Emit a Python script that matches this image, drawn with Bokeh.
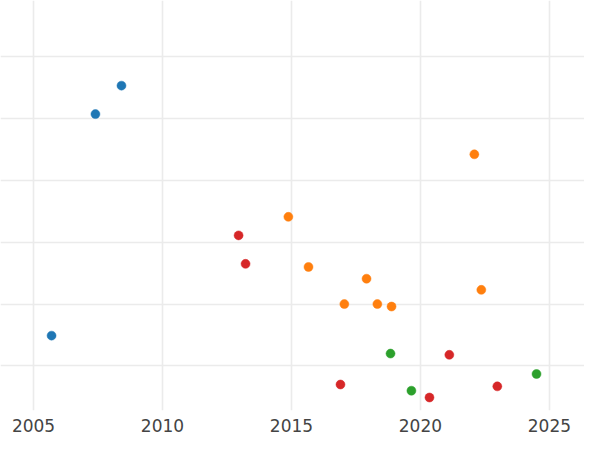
from bokeh.plotting import figure
from bokeh.models import FixedTicker, ColumnDataSource
from bokeh.embed import file_html
from bokeh.resources import INLINE

# data
blue_x = [2008.41, 2007.40, 2005.70]
blue_y = [5.53, 5.07, 1.49]
orange_x = [2022.09, 2014.88, 2015.66, 2017.91, 2017.05, 2018.33, 2018.88, 2022.36]
orange_y = [4.42, 3.41, 2.60, 2.41, 2.00, 2.00, 1.96, 2.23]
red_x = [2012.95, 2013.22, 2021.12, 2016.90, 2020.35, 2022.98]
red_y = [3.11, 2.65, 1.18, 0.70, 0.49, 0.67]
green_x = [2018.84, 2019.65, 2024.50]
green_y = [1.20, 0.60, 0.87]

x_ticks = [2005, 2010, 2015, 2020, 2025]
y_ticks = [1, 2, 3, 4, 5, 6]

series = [
    (blue_x, blue_y, "#1f77b4"),
    (orange_x, orange_y, "#ff7f0e"),
    (red_x, red_y, "#d62728"),
    (green_x, green_y, "#2ca02c"),
]

p = figure(width=584, height=434, output_backend="svg", toolbar_location=None,
           x_range=(2003.72, 2026.36), y_range=(0.28, 6.906),
           y_axis_location=None, min_border_left=0, min_border_right=0,
           min_border_top=0, min_border_bottom=0)
p.outline_line_color = None
p.background_fill_color = "white"
p.border_fill_color = "white"

for xs, ys, c in series:
    src = ColumnDataSource(dict(x=xs, y=ys))
    p.scatter("x", "y", source=src, size=9, fill_color=c, line_color=c, line_width=0.5)

p.xaxis.ticker = FixedTicker(ticks=x_ticks)
p.xgrid.ticker = FixedTicker(ticks=x_ticks)
p.ygrid.ticker = FixedTicker(ticks=y_ticks)
p.xaxis.axis_line_color = None
p.xaxis.major_tick_line_color = None
p.xaxis.minor_tick_line_color = None
p.xaxis.major_label_text_font = "DejaVu Sans"
p.xaxis.major_label_text_font_size = "17px"
p.xaxis.major_label_text_color = "#444444"
p.xaxis.major_label_standoff = 2
p.grid.grid_line_color = "#ebebeb"
p.grid.grid_line_width = 1.6

open("out.html", "w").write(file_html(p, INLINE))
